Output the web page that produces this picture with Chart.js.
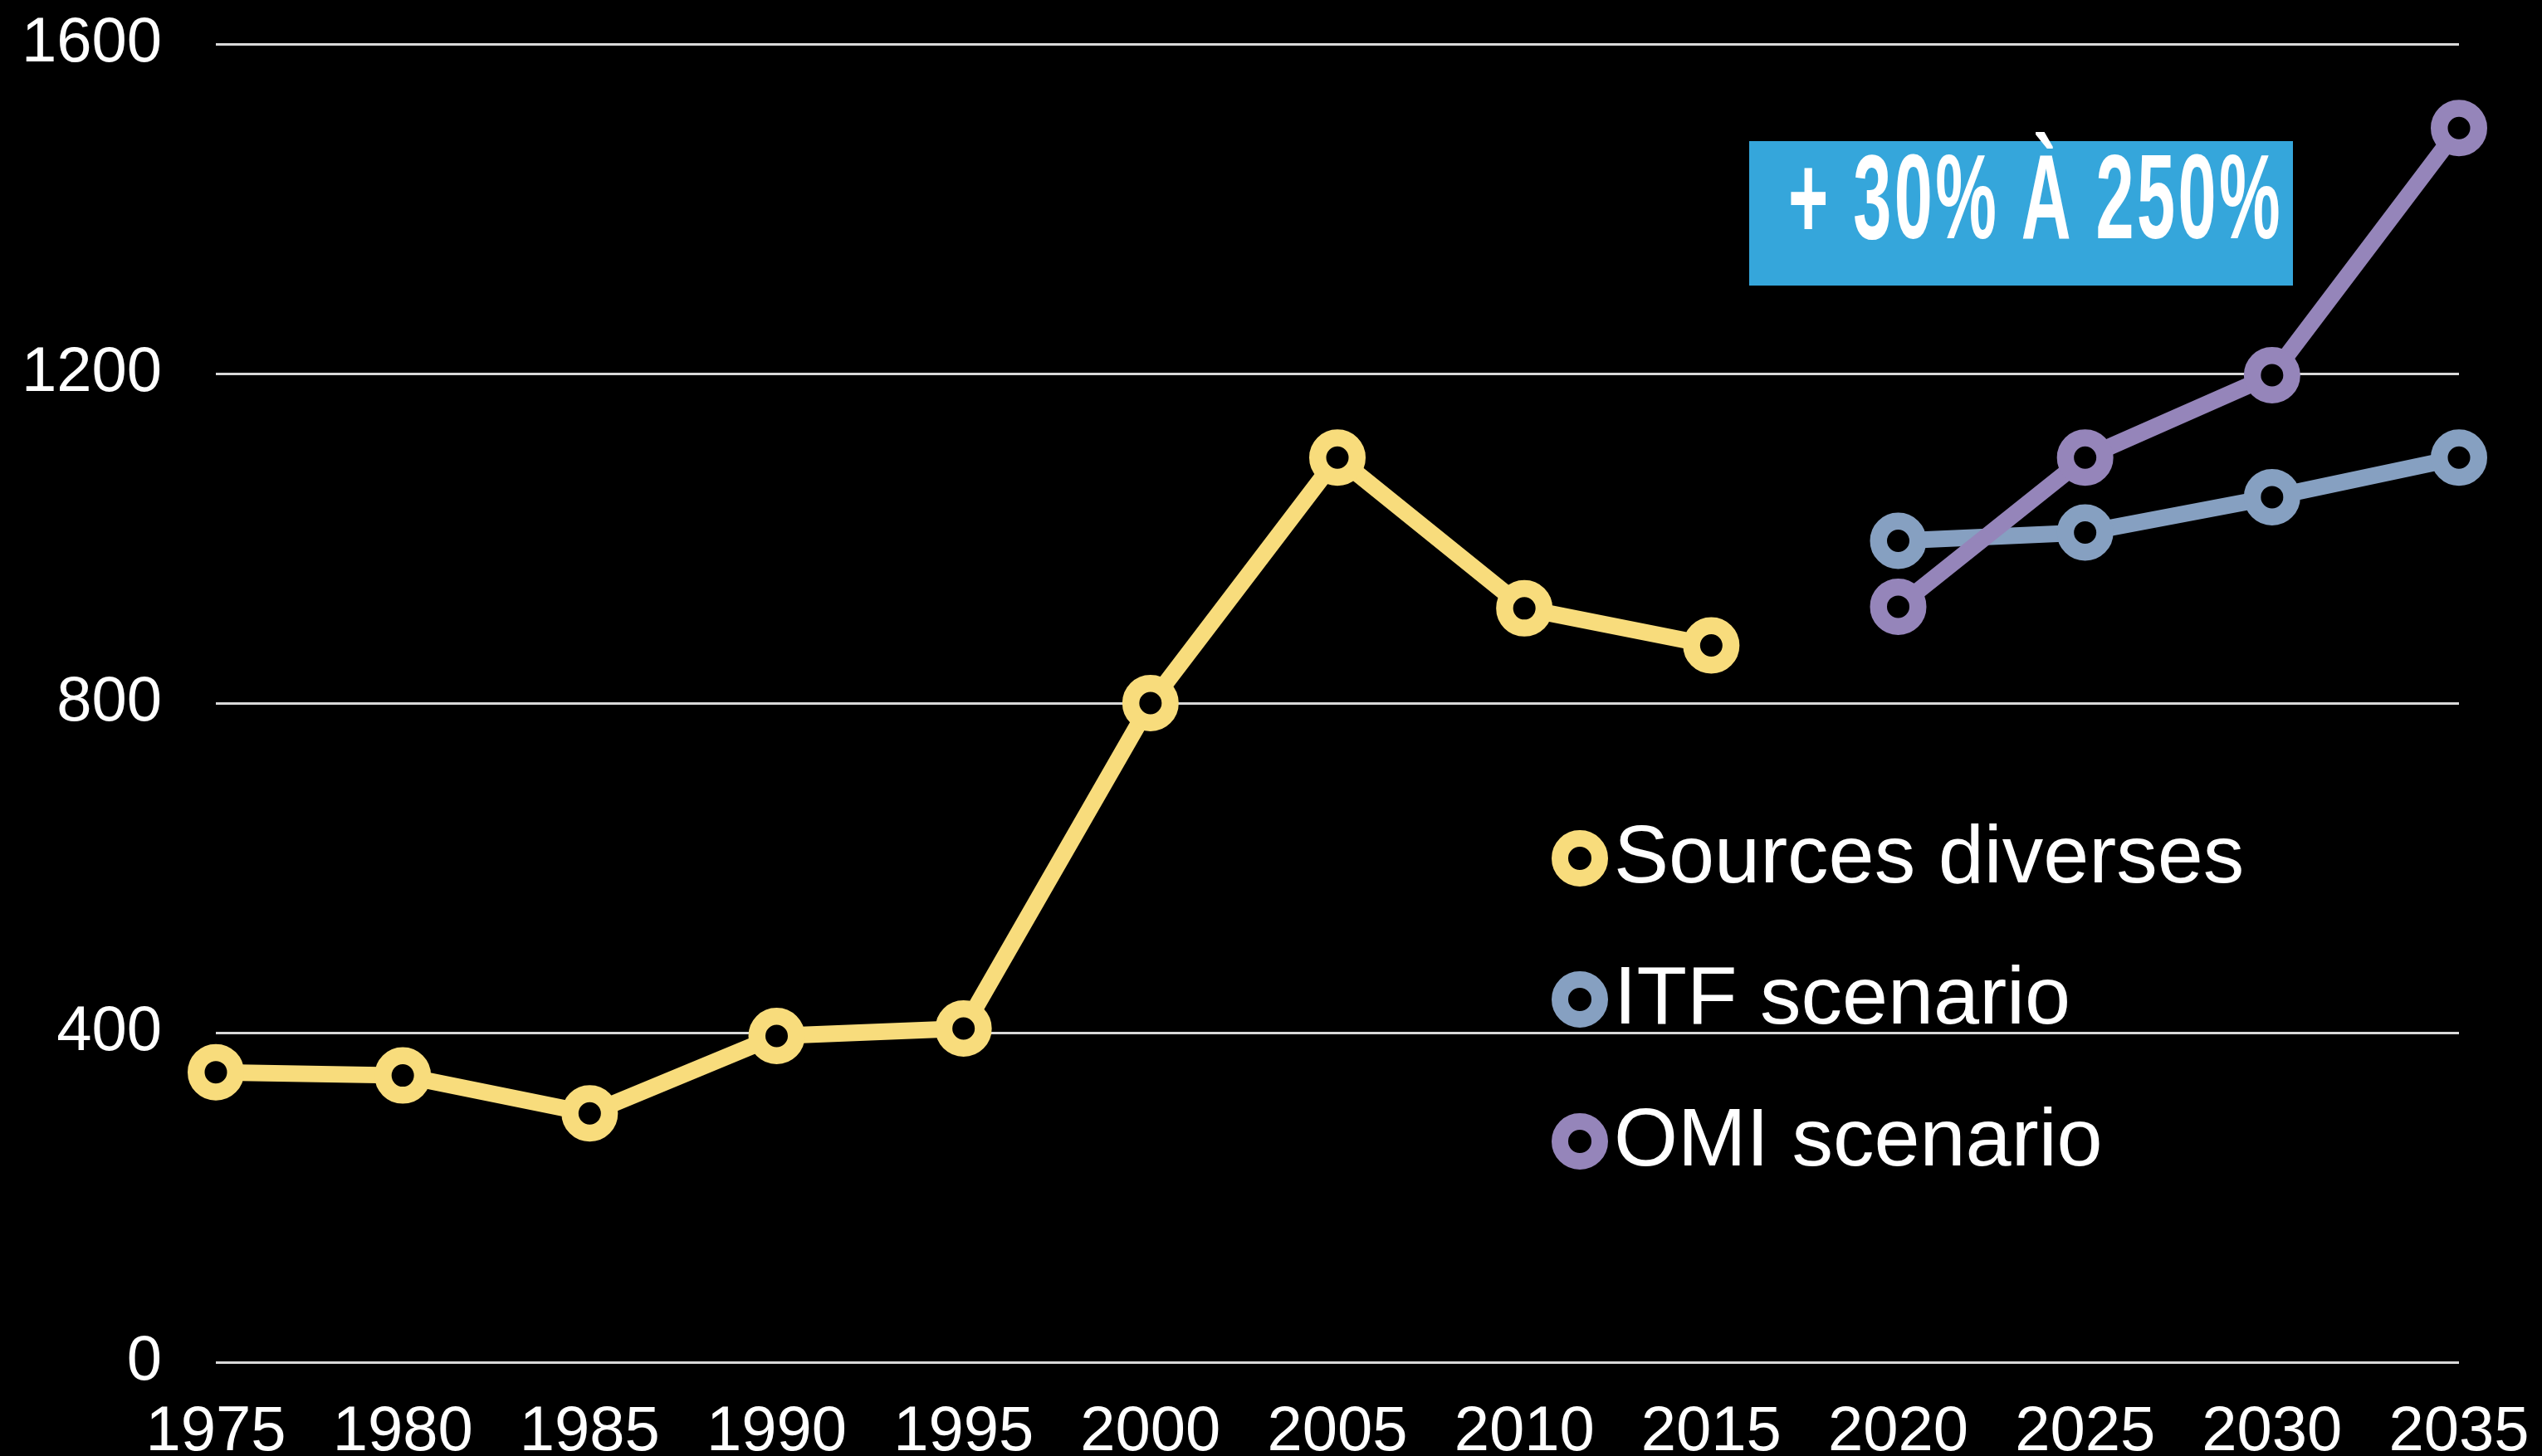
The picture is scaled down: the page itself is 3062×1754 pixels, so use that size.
<!DOCTYPE html>
<html>
<head>
<meta charset="utf-8">
<script src="https://cdn.jsdelivr.net/npm/chart.js@4.4.1/dist/chart.umd.min.js"></script>
<style>
  html, body { margin: 0; padding: 0; background: #000; }
  #wrap { position: relative; width: 3062px; height: 1754px; }
  #badge {
    position: absolute; left: 2107px; top: 170px; width: 655px; height: 174px;
    background: #35a6db;
  }
  #badge span {
    position: absolute; left: 47px; top: -4px;
    font: bold 144px/144px "Liberation Sans", Arial, sans-serif;
    letter-spacing: 6px;
    color: #fff; white-space: nowrap;
    transform: scaleX(0.575); transform-origin: left top;
  }
  .legend-marker {
    position: absolute; width: 68px; height: 68px; box-sizing: border-box;
    border-radius: 50%; border: 20.5px solid; background: #000;
  }
  .legend-text {
    position: absolute; font: 99px/99px "Liberation Sans", Arial, sans-serif;
    color: #fff; white-space: nowrap;
  }
</style>
</head>
<body>
<div id="wrap">
  <canvas id="line-graph"></canvas>
  <div id="badge"><span>+ 30% À 250%</span></div>
  <div id="legend"></div>
</div>
<script>
const years = ["1975", "1980", "1985", "1990", "1995", "2000", "2005", "2010", "2015", "2020", "2025", "2030", "2035"];
const sourcesDiverses = [352, 348, 302, 396, 405, 800, 1098, 915, 870, null, null, null, null];
const itfScenario = [null, null, null, null, null, null, null, null, null, 997, 1007, 1050, 1098];
const omiScenario = [null, null, null, null, null, null, null, null, null, 917, 1098, 1198, 1498];
const seriesNames = ["Sources diverses", "ITF scenario", "OMI scenario"];
const seriesColors = ["#f8dc7c", "#86a0c1", "#9585ba"];
const yTicks = [0, 400, 800, 1200, 1600];

Chart.defaults.font.family = "'Liberation Sans', Arial, sans-serif";
Chart.defaults.color = "#ffffff";

function makeDataset(i, values, order) {
  return {
    label: seriesNames[i],
    data: values,
    borderColor: seriesColors[i],
    borderWidth: 20,
    pointRadius: 23.75,
    pointBorderWidth: 20.5,
    pointBackgroundColor: "#000000",
    pointBorderColor: seriesColors[i],
    spanGaps: false,
    clip: false,
    order: order, // purple goes over the blue line
  };
}

const ctx = document.getElementById("line-graph");

new Chart(ctx, {
  type: "line",
  data: {
    labels: years,
    datasets: [
      makeDataset(0, sourcesDiverses, 3),
      makeDataset(1, itfScenario, 2),
      makeDataset(2, omiScenario, 1),
    ],
  },
  options: {
    responsive: true,
    maintainAspectRatio: false,
    animation: false,
    layout: { padding: { top: 53, right: 100, bottom: 0, left: 0 } },
    plugins: {
      legend: { display: false },
      tooltip: { enabled: false },
    },
    scales: {
      x: {
        offset: false,
        grid: { display: false },
        border: { display: false },
        ticks: {
          autoSkip: false,
          maxRotation: 0,
          padding: 31,
          font: { size: 76 },
          color: "#ffffff",
        },
        afterFit: function (scale) {
          scale.height = 113;
          // let layout.padding decide the edges
          scale.paddingLeft = 0;
          scale.paddingRight = 0;
        },
      },
      y: {
        min: 0,
        max: 1600,
        afterBuildTicks: function (scale) {
          scale.ticks = yTicks.map((v) => ({ value: v }));
        },
        grid: {
          color: "#d9d9d9",
          lineWidth: 3,
          drawTicks: false,
        },
        border: { display: false },
        ticks: {
          padding: 65,
          font: { size: 76 },
          color: "#ffffff",
          callback: (value) => String(value), // no thousands comma
        },
        afterFit: function (scale) {
          scale.width = 260;
          scale.paddingTop = 0;
          scale.paddingBottom = 0;
        },
      },
    },
  },
});

// legend drawn as html next to the lines
const legend = document.getElementById("legend");
const markerY = [1034, 1204, 1375];
const textY = [1029, 1199, 1370];
seriesNames.forEach((name, i) => {
  const m = document.createElement("div");
  m.className = "legend-marker";
  m.style.borderColor = seriesColors[i];
  m.style.left = 1903 - 34 + "px";
  m.style.top = markerY[i] - 34 + "px";
  legend.appendChild(m);

  const t = document.createElement("div");
  t.className = "legend-text";
  t.textContent = name;
  t.style.left = "1944px";
  t.style.top = textY[i] - 50 + "px";
  legend.appendChild(t);
});
</script>
</body>
</html>
